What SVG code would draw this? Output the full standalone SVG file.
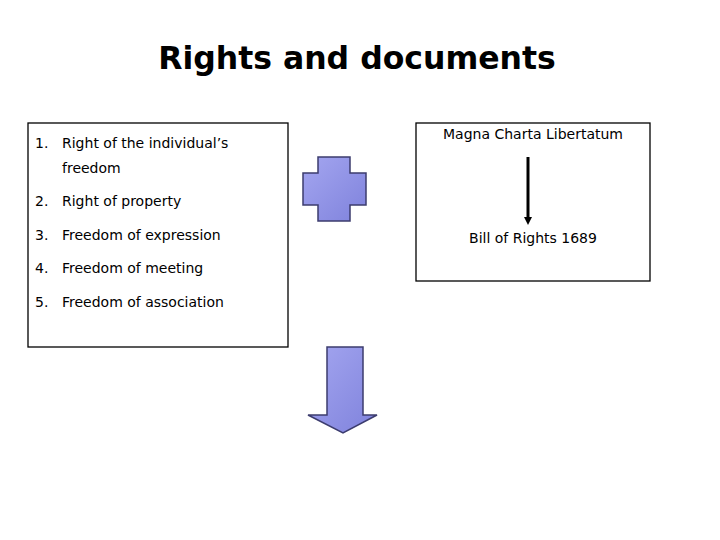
<svg xmlns="http://www.w3.org/2000/svg" width="720" height="540" viewBox="0 0 720 540">
<style>
.t{font-family:"DejaVu Sans",Verdana,sans-serif;font-size:14px;fill:#000}
.box{fill:#fff;stroke:#000;stroke-width:1.3}
.shape{fill:url(#g);stroke:#3c3c6e;stroke-width:1.5}
</style>
<defs>
<linearGradient id="g" x1="0" y1="0" x2="1" y2="1">
<stop offset="0" stop-color="#a4a6f0"/>
<stop offset="1" stop-color="#7f82dc"/>
</linearGradient>
<marker id="ah" markerWidth="8" markerHeight="8" refX="2" refY="4" orient="auto" markerUnits="userSpaceOnUse">
<path d="M0,0 L8,4 L0,8 z" fill="#000"/>
</marker>
</defs>
<rect width="720" height="540" fill="#fff"/>
<text id="title" x="357" y="69" text-anchor="middle" font-family="'DejaVu Sans',Verdana,sans-serif" font-weight="bold" font-size="31.5">Rights and documents</text>
<g id="rights">
<rect class="box" x="28" y="123" width="260" height="224"/>
<text class="t" x="35" y="148">1.</text><text class="t" x="62" y="148">Right of the individual’s</text>
<text class="t" x="62" y="173">freedom</text>
<text class="t" x="35" y="206">2.</text><text class="t" x="62" y="206">Right of property</text>
<text class="t" x="35" y="240">3.</text><text class="t" x="62" y="240">Freedom of expression</text>
<text class="t" x="35" y="273">4.</text><text class="t" x="62" y="273">Freedom of meeting</text>
<text class="t" x="35" y="307">5.</text><text class="t" x="62" y="307">Freedom of association</text>
</g>
<g id="plus">
<path class="shape" d="M318,157 H350 V173 H366 V205 H350 V221 H318 V205 H303 V173 H318 Z"/>
</g>
<g id="downarrow">
<path class="shape" d="M327,347 H363 V415 H377 L343,433 L308,415 H327 Z"/>
</g>
<g id="documents">
<rect class="box" x="416" y="123" width="234" height="158"/>
<text class="t" x="533" y="139" text-anchor="middle">Magna Charta Libertatum</text>
<text class="t" x="533" y="243" text-anchor="middle">Bill of Rights 1689</text>
</g>
<g id="connectors">
<line x1="528" y1="157" x2="528" y2="219" stroke="#000" stroke-width="3" marker-end="url(#ah)"/>
</g>
</svg>
